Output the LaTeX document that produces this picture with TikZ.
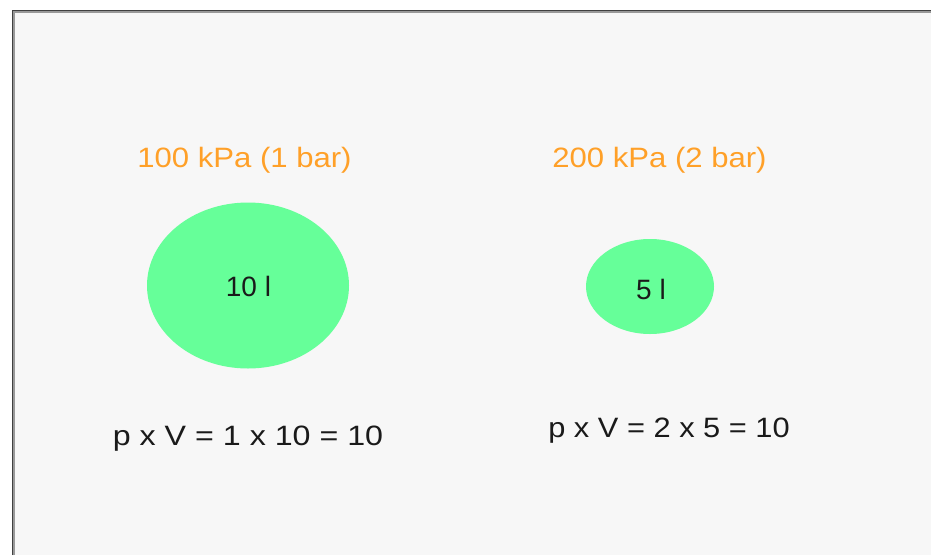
\documentclass[tikz,border=0pt]{standalone}
\usepackage{fontspec}
\setmainfont{Liberation Sans}
\usepackage{graphicx}
\definecolor{bgpanel}{HTML}{F7F7F7}
\definecolor{bubble}{HTML}{66FF99}
\definecolor{presscol}{HTML}{FFA028}
\definecolor{inkcol}{HTML}{1A1A1A}
\tikzset{
  pressure/.style={text=presscol, anchor=base, inner sep=0pt, font=\fontsize{28}{32}\selectfont},
  formula/.style={text=inkcol, anchor=base, inner sep=0pt, font=\fontsize{28}{32}\selectfont},
  vol/.style={text=inkcol, anchor=base, inner sep=0pt, font=\fontsize{28}{32}\selectfont},
  gasbubble/.style={fill=bubble, draw=none},
}
\begin{document}
\begin{tikzpicture}[x=1pt,y=-1pt]
\useasboundingbox (0,0) rectangle (931,555);
\fill[white] (0,0) rectangle (931,555);
\fill[bgpanel] (12,10) rectangle (931,555);
\draw[line width=1.6pt, color=black!75] (12.3,555) -- (12.3,10.3) -- (931,10.3);
\draw[line width=1.2pt, color=black!40] (14,555) -- (14,12) -- (931,12);
% bubbles
\fill[gasbubble] (248,285.5) ellipse [x radius=101, y radius=83];
\fill[gasbubble] (650,286.5) ellipse [x radius=64, y radius=47.5];
% labels
\node[pressure] (p1) at (244.5,167) {\scalebox{1.11}[1]{100 kPa (1 bar)}};
\node[pressure] (p2) at (659.5,167) {\scalebox{1.11}[1]{200 kPa (2 bar)}};
\node[vol] (v1) at (248.5,296) {10 l};
\node[vol] (v2) at (651,299) {5 l};
\node[formula] (f1) at (248,445) {\scalebox{1.15}[1]{p x V = 1 x 10 = 10}};
\node[formula] (f2) at (669,437) {\scalebox{1.10}[1]{p x V = 2 x 5 = 10}};
\end{tikzpicture}
\end{document}
